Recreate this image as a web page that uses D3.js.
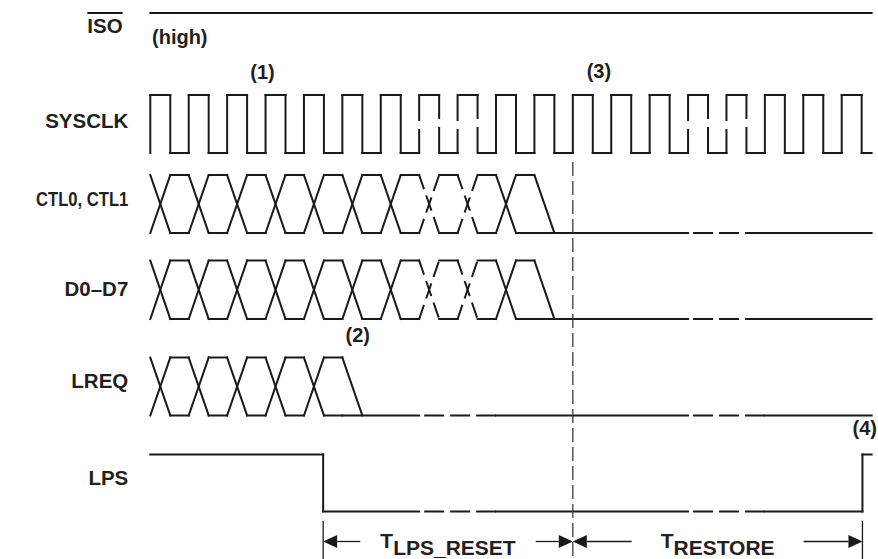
<!DOCTYPE html>
<html>
<head>
<meta charset="utf-8">
<script src="https://cdn.jsdelivr.net/npm/d3@7"></script>
<style>
  body { margin: 0; background: #fff; }
  text { font-family: "Liberation Sans", Arial, Helvetica, sans-serif; font-weight: bold; fill: #231f20; }
  .trace { stroke: #1a1a1a; stroke-width: 2; fill: none; stroke-linecap: square; }
  .idle-gap { stroke-dasharray: 18 8; stroke-dashoffset: 20; }
  .edge-gap { stroke-dasharray: 23 10; }
  .cross-gap { stroke-dasharray: 14 8.7; }
  .marker { stroke: #3a3a3a; stroke-width: 1.3; stroke-dasharray: 14 5; }
  .dim { stroke: #1a1a1a; stroke-width: 1.3; }
</style>
</head>
<body>
<div id="chart"></div>
<script>
// all times are in SYSCLK cycles, 0 = first rising edge
const signals = ["ISO", "SYSCLK", "CTL0, CTL1", "D0–D7", "LREQ", "LPS"];
const clkRise = [0, 1, 2, 3, 4, 5, 6, 7, 8, 9, 10, 11, 12, 13, 14, 15, 16, 17, 18];
const clkHigh = 0.52;             // high time of one cycle
const tEnd = 18.78;               // end of every trace
const breaks = [[7, 9], [14, 16]]; // stretches drawn broken

const ctlSwitch = [0, 1, 2, 3, 4, 5, 6, 7, 8, 9];
const ctlRelease = 10;
const dataSwitch = [0, 1, 2, 3, 4, 5, 6, 7, 8, 9];
const dataRelease = 10;
const lreqSwitch = [0, 1, 2, 3, 4];
const lreqRelease = 5;
const lpsFall = 4.5;
const lpsRise = 18.54;
const restoreStart = 11;          // dashed marker line

const notes = [
  { text: "(1)", t: 2.92 },
  { text: "(2)", t: 5.4 },
  { text: "(3)", t: 11.68 },
  { text: "(4)", t: 18.6 }
];
const spans = [
  { sub: "LPS_RESET", from: lpsFall, to: restoreStart },
  { sub: "RESTORE", from: restoreStart, to: lpsRise }
];

// ---- layout
const W = 878, H = 559;
const level = {              // [high, low] y of each row
  "ISO": [13, 13],
  "SYSCLK": [95, 153],
  "CTL0, CTL1": [175, 233],
  "D0–D7": [260.5, 319],
  "LREQ": [357.5, 415.5],
  "LPS": [454.5, 511.5]
};
const labelY = { "ISO": 33, "SYSCLK": 128, "CTL0, CTL1": 205.5, "D0–D7": 296, "LREQ": 388, "LPS": 485 };
const noteY = { "(1)": 79, "(2)": 342, "(3)": 78, "(4)": 435 };
const spanGap = [20, 29];
const arrowY = 541.5;

const svg = d3.select("#chart").append("svg")
    .attr("width", W)
    .attr("height", H);

const x = d3.scaleLinear().domain([0, 18]).range([150.3, 841.7]);

const inBreak = t => breaks.some(([a, b]) => t >= a && t < b);

function seg(g, t0, y0, t1, y1, cls) {
  g.append("line")
    .attr("x1", x(t0)).attr("y1", y0)
    .attr("x2", x(t1)).attr("y2", y1)
    .attr("class", cls ? "trace " + cls : "trace");
}

// horizontal idle line, dashed inside the break windows
function idle(g, t0, t1, y) {
  let cuts = [t0, t1];
  breaks.forEach(([a, b]) => {
    if (a > t0 && a < t1) cuts.push(a);
    if (b > t0 && b < t1) cuts.push(b);
  });
  cuts.sort(d3.ascending);
  for (let i = 0; i < cuts.length - 1; i++) {
    const mid = (cuts[i] + cuts[i + 1]) / 2;
    seg(g, cuts[i], y, cuts[i + 1], y, inBreak(mid) ? "idle-gap" : null);
  }
}

// bus with X transitions then a release to low
function bus(name, switches, release) {
  const g = svg.append("g");
  const [hi, lo] = level[name];
  switches.forEach((t, i) => {
    const cls = inBreak(t) ? "cross-gap" : null;
    seg(g, t, hi, t + clkHigh, lo, cls);
    seg(g, t, lo, t + clkHigh, hi, cls);
    const next = i < switches.length - 1 ? switches[i + 1] : release;
    seg(g, t + clkHigh, hi, next, hi);
    if (i < switches.length - 1) seg(g, t + clkHigh, lo, next, lo);
  });
  seg(g, release, hi, release + clkHigh, lo);
  const last = switches[switches.length - 1] + clkHigh;
  seg(g, last, lo, release, lo);
  idle(g, release, tEnd, lo);
}

// ISO
svg.append("g").call(g => seg(g, 0, level.ISO[0], tEnd, level.ISO[0]));

// SYSCLK
const clk = svg.append("g");
const [cHi, cLo] = level.SYSCLK;
clkRise.forEach((t, i) => {
  seg(clk, t, cLo, t, cHi, inBreak(t) ? "edge-gap" : null);
  seg(clk, t, cHi, t + clkHigh, cHi);
  seg(clk, t + clkHigh, cHi, t + clkHigh, cLo, inBreak(t + clkHigh) ? "edge-gap" : null);
  const next = i < clkRise.length - 1 ? clkRise[i + 1] : tEnd;
  seg(clk, t + clkHigh, cLo, next, cLo);
});

bus("CTL0, CTL1", ctlSwitch, ctlRelease);
bus("D0–D7", dataSwitch, dataRelease);
bus("LREQ", lreqSwitch, lreqRelease);

// LPS
const lps = svg.append("g");
const [pHi, pLo] = level.LPS;
seg(lps, 0, pHi, lpsFall, pHi);
seg(lps, lpsFall, pHi, lpsFall, pLo);
idle(lps, lpsFall, lpsRise, pLo);
seg(lps, lpsRise, pLo, lpsRise, pHi);
seg(lps, lpsRise, pHi, tEnd, pHi);

// dashed marker
svg.append("line").attr("class", "marker")
    .attr("x1", x(restoreStart)).attr("x2", x(restoreStart))
    .attr("y1", 162).attr("y2", H);

// signal names
signals.forEach(s => {
  const right = s === "ISO" ? 122.7 : 128.3;
  // the bus name is set condensed in the original
  const sx = s === "CTL0, CTL1" ? 0.81 : 1;
  const t = svg.append("text")
      .attr("transform", `translate(${right},${labelY[s]}) scale(${sx},1)`)
      .attr("text-anchor", "end")
      .style("font-size", "20.5px")
      .text(s);
  if (s === "ISO") {
    const w = t.node().getComputedTextLength();
    svg.append("line").attr("class", "trace")
        .style("stroke-linecap", "butt")
        .attr("x1", right - w).attr("x2", right)
        .attr("y1", level.ISO[0]).attr("y2", level.ISO[0]);
  }
});

svg.append("text")
    .attr("x", 152).attr("y", 44)
    .style("font-size", "20px")
    .text("(high)");

svg.selectAll("text.note").data(notes).enter()
  .append("text")
    .attr("class", "note")
    .attr("x", d => x(d.t))
    .attr("y", d => noteY[d.text])
    .attr("text-anchor", "middle")
    .style("font-size", "20px")
    .text(d => d.text);

// timing spans at the bottom
[lpsFall, lpsRise].forEach(t => {
  svg.append("line").attr("class", "dim")
      .attr("x1", x(t)).attr("x2", x(t))
      .attr("y1", 521).attr("y2", H);
});

const aLen = 14, aHalf = 6.5;
spans.forEach((s, i) => {
  const xa = x(s.from), xb = x(s.to), mid = (xa + xb) / 2;
  const lab = svg.append("text")
      .attr("x", mid).attr("y", arrowY + 6.5)
      .attr("text-anchor", "middle")
      .style("font-size", "21px");
  lab.append("tspan").text("T");
  lab.append("tspan").attr("dy", 7).text(s.sub);
  const w = lab.node().getComputedTextLength();
  svg.append("path")
      .attr("d", `M${xa},${arrowY}L${xa + aLen},${arrowY - aHalf}L${xa + aLen},${arrowY + aHalf}Z`)
      .attr("fill", "#1a1a1a");
  svg.append("path")
      .attr("d", `M${xb},${arrowY}L${xb - aLen},${arrowY - aHalf}L${xb - aLen},${arrowY + aHalf}Z`)
      .attr("fill", "#1a1a1a");
  svg.append("line").attr("class", "dim")
      .attr("x1", xa + aLen).attr("x2", mid - w / 2 - spanGap[i])
      .attr("y1", arrowY).attr("y2", arrowY);
  svg.append("line").attr("class", "dim")
      .attr("x1", mid + w / 2 + spanGap[i]).attr("x2", xb - aLen)
      .attr("y1", arrowY).attr("y2", arrowY);
});
</script>
</body>
</html>
